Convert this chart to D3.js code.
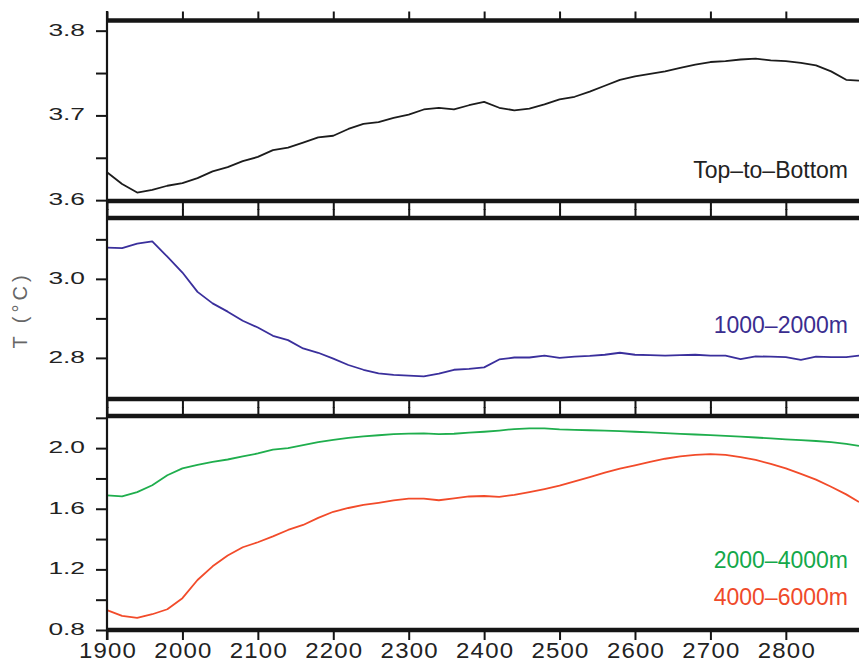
<!DOCTYPE html>
<html>
<head>
<meta charset="utf-8">
<script src="https://cdn.jsdelivr.net/npm/d3@7"></script>
<style>
  body { margin: 0; background: #fff; }
  svg { display: block; font-family: "Liberation Sans", Arial, sans-serif; }
</style>
</head>
<body>
<div id="chart"></div>
<script>
const years = [1900, 1920, 1940, 1960, 1980, 2000, 2020, 2040, 2060, 2080,
  2100, 2120, 2140, 2160, 2180, 2200, 2220, 2240, 2260, 2280,
  2300, 2320, 2340, 2360, 2380, 2400, 2420, 2440, 2460, 2480,
  2500, 2520, 2540, 2560, 2580, 2600, 2620, 2640, 2660, 2680,
  2700, 2720, 2740, 2760, 2780, 2800, 2820, 2840, 2860, 2880, 2897];

const topToBottom = [3.633, 3.619, 3.609, 3.612, 3.617, 3.620, 3.626, 3.634, 3.639, 3.646,
  3.651, 3.659, 3.662, 3.668, 3.674, 3.676, 3.684, 3.690, 3.692, 3.697,
  3.701, 3.707, 3.709, 3.707, 3.712, 3.716, 3.709, 3.706, 3.708, 3.713,
  3.719, 3.722, 3.728, 3.735, 3.742, 3.746, 3.749, 3.752, 3.756, 3.760,
  3.763, 3.764, 3.766, 3.767, 3.765, 3.764, 3.762, 3.759, 3.752, 3.742, 3.741];

const mid1000 = [3.079, 3.078, 3.089, 3.095, 3.056, 3.016, 2.967, 2.938, 2.917, 2.894,
  2.877, 2.856, 2.845, 2.824, 2.813, 2.798, 2.782, 2.770, 2.761, 2.757,
  2.755, 2.753, 2.760, 2.770, 2.772, 2.776, 2.796, 2.801, 2.801, 2.806,
  2.800, 2.803, 2.805, 2.808, 2.813, 2.808, 2.807, 2.806, 2.807, 2.808,
  2.806, 2.806, 2.797, 2.804, 2.803, 2.802, 2.795, 2.803, 2.802, 2.802, 2.806];

const deep2000 = [1.688, 1.682, 1.710, 1.755, 1.821, 1.866, 1.890, 1.910, 1.925, 1.945,
  1.965, 1.990, 2.000, 2.020, 2.040, 2.054, 2.068, 2.078, 2.085, 2.092,
  2.096, 2.097, 2.092, 2.095, 2.102, 2.108, 2.116, 2.126, 2.130, 2.131,
  2.124, 2.120, 2.118, 2.115, 2.112, 2.108, 2.104, 2.099, 2.094, 2.090,
  2.086, 2.081, 2.076, 2.070, 2.064, 2.058, 2.053, 2.047, 2.040, 2.028, 2.015];

const deep4000 = [0.931, 0.893, 0.880, 0.904, 0.937, 1.010, 1.130, 1.220, 1.291, 1.346,
  1.379, 1.418, 1.460, 1.493, 1.540, 1.580, 1.605, 1.625, 1.639, 1.655,
  1.667, 1.667, 1.656, 1.668, 1.681, 1.684, 1.679, 1.692, 1.710, 1.730,
  1.752, 1.780, 1.808, 1.838, 1.865, 1.887, 1.910, 1.930, 1.945, 1.955,
  1.960, 1.955, 1.940, 1.922, 1.896, 1.866, 1.830, 1.792, 1.745, 1.695, 1.644];

const xTicks = [1900, 2000, 2100, 2200, 2300, 2400, 2500, 2600, 2700, 2800];
const topTicks = [3.6, 3.65, 3.7, 3.75, 3.8];
const topLabels = [3.6, 3.7, 3.8];
const midTicks = [2.8, 2.9, 3.0, 3.1];
const midLabels = [2.8, 3.0];
const botTicks = [0.8, 1.0, 1.2, 1.4, 1.6, 1.8, 2.0, 2.2];
const botLabels = [0.8, 1.2, 1.6, 2.0];

const W = 859, H = 663;
const left = 107;

const svg = d3.select('#chart').append('svg').attr('width', W).attr('height', H);

const x = d3.scaleLinear().domain([1900, 2897]).range([left, 859]);

const panels = [
  { domain: [3.599, 3.812], top: 20.5, bottom: 201, ticks: topTicks, labels: topLabels,
    series: [{ values: topToBottom, color: '#1c1c1c' }],
    notes: [{ text: 'Top–to–Bottom', color: '#222', y: 178 }] },
  { domain: [2.696, 3.154], top: 218, bottom: 399, ticks: midTicks, labels: midLabels,
    series: [{ values: mid1000, color: '#3a2f9c' }],
    notes: [{ text: '1000–2000m', color: '#3a2d8f', y: 333 }] },
  { domain: [0.8, 2.212], top: 416, bottom: 630, ticks: botTicks, labels: botLabels,
    series: [{ values: deep2000, color: '#1fae4d' }, { values: deep4000, color: '#f24b2a' }],
    notes: [{ text: '2000–4000m', color: '#14a84a', y: 568 }, { text: '4000–6000m', color: '#ef4a2a', y: 605 }] }
];

const ink = '#151515';

panels.forEach((p, pi) => {
  const y = d3.scaleLinear().domain(p.domain).range([p.bottom, p.top]);

  // x ticks, outward from the frame on both sides
  const topAx = svg.append('g').attr('transform', `translate(0,${p.top})`)
    .call(d3.axisTop(x).tickValues(xTicks).tickSize(9).tickFormat(''));
  const botAx = svg.append('g').attr('transform', `translate(0,${p.bottom})`)
    .call(d3.axisBottom(x).tickValues(xTicks).tickSize(pi === 2 ? 10 : 9).tickFormat(''));
  [topAx, botAx].forEach((ax) => {
    ax.select('.domain').remove();
    ax.selectAll('line').attr('stroke', ink).attr('stroke-width', 2);
  });

  // y ticks
  const yAx = svg.append('g').attr('transform', `translate(${left},0)`)
    .call(d3.axisLeft(y).tickValues(p.ticks).tickSize(11).tickFormat(''));
  yAx.select('.domain').remove();
  yAx.selectAll('line').attr('stroke', ink).attr('stroke-width', 2);

  p.labels.forEach((v) => {
    svg.append('text')
      .attr('transform', `translate(85,${y(v) + 5}) scale(1.55,1)`)
      .attr('text-anchor', 'end').attr('font-size', 17).attr('fill', '#222')
      .text(d3.format('.1f')(v));
  });

  const line = d3.line().x((_, i) => x(years[i])).y((d) => y(d));
  p.series.forEach((s) => {
    svg.append('path').attr('d', line(s.values))
      .attr('fill', 'none').attr('stroke', s.color).attr('stroke-width', 1.8)
      .attr('stroke-linejoin', 'round');
  });

  // thick frame lines
  [p.top, p.bottom].forEach((yy) => {
    svg.append('line').attr('x1', left).attr('x2', W).attr('y1', yy).attr('y2', yy)
      .attr('stroke', ink).attr('stroke-width', 4.5);
  });

  p.notes.forEach((n) => {
    svg.append('text').attr('x', 848).attr('y', n.y)
      .attr('text-anchor', 'end').attr('font-size', 23).attr('fill', n.color)
      .text(n.text);
  });
});

// left axis spine
svg.append('line').attr('x1', left).attr('x2', left).attr('y1', 11).attr('y2', 640)
  .attr('stroke', ink).attr('stroke-width', 2.2);

// bottom year labels
xTicks.forEach((t) => {
  svg.append('text')
    .attr('transform', `translate(${x(t) + 1},658) scale(1.2,1.1)`)
    .attr('text-anchor', 'middle').attr('font-size', 20).attr('fill', '#222')
    .attr('letter-spacing', 1)
    .text(t);
});

// y axis title
svg.append('text')
  .attr('transform', 'translate(27,310) rotate(-90)')
  .attr('text-anchor', 'middle').attr('font-size', 20).attr('fill', '#666')
  .attr('letter-spacing', 4)
  .text('T (°C)');
</script>
</body>
</html>
